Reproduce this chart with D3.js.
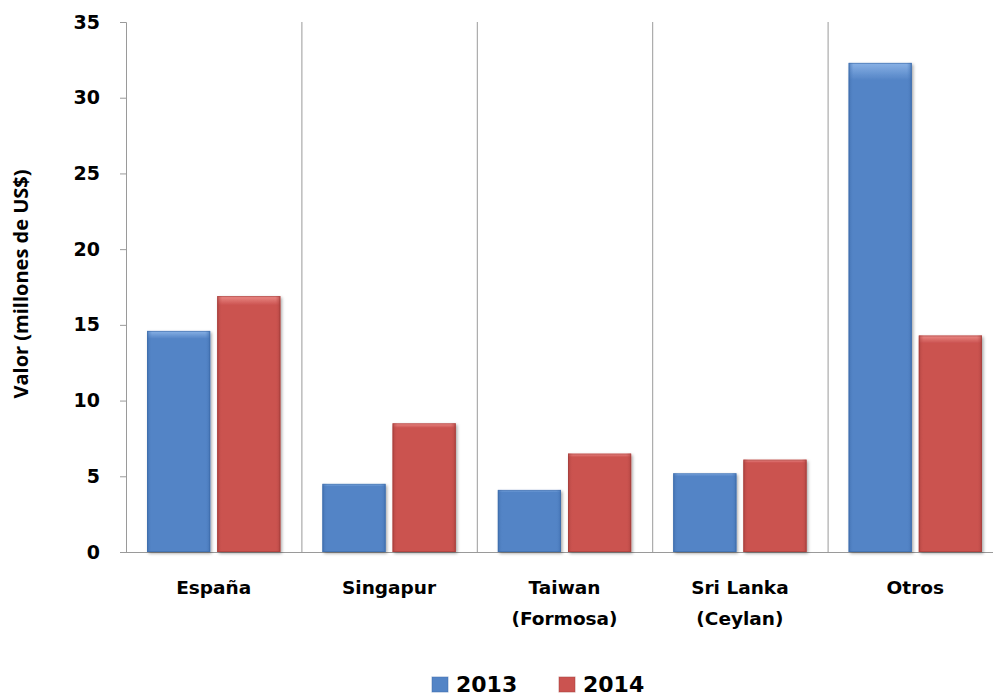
<!DOCTYPE html>
<html><head><meta charset="utf-8">
<script src="https://cdn.jsdelivr.net/npm/d3@7"></script>
<style>body{margin:0;background:#fff}svg{display:block}</style>
</head><body>
<script>
const categories = [["España"],["Singapur"],["Taiwan","(Formosa)"],["Sri Lanka","(Ceylan)"],["Otros"]];
const seriesNames = ["2013","2014"];
const values2013 = [14.6, 4.5, 4.1, 5.2, 32.3];
const values2014 = [16.9, 8.5, 6.5, 6.1, 14.3];
const yTicks = [0,5,10,15,20,25,30,35];
const colors = ["#5384c6","#cb5350"];

(function(){
const W=993,H=696;
const FONT="'DejaVu Sans',Verdana,sans-serif";
const svg=d3.select("body").append("svg").attr("width",W).attr("height",H);
const defs=svg.append("defs");
const dark=["#3c6aa8","#a23d3a"], light=["#8ab2e6","#ec8a87"];
colors.forEach((c,i)=>{
  const g=defs.append("linearGradient").attr("id","v"+i).attr("x1",0).attr("y1",0).attr("x2",0).attr("y2",1);
  g.append("stop").attr("offset","0").attr("stop-color",light[i]);
  g.append("stop").attr("offset","0.035").attr("stop-color",c);
  g.append("stop").attr("offset","1").attr("stop-color",c);
  const h=defs.append("linearGradient").attr("id","h"+i).attr("x1",0).attr("y1",0).attr("x2",1).attr("y2",0);
  h.append("stop").attr("offset","0").attr("stop-color",dark[i]).attr("stop-opacity",0.7);
  h.append("stop").attr("offset","0.08").attr("stop-color",c).attr("stop-opacity",0);
  h.append("stop").attr("offset","0.92").attr("stop-color",c).attr("stop-opacity",0);
  h.append("stop").attr("offset","1").attr("stop-color",dark[i]).attr("stop-opacity",0.7);
});
const f=defs.append("filter").attr("id","sh").attr("x","-20%").attr("y","-20%").attr("width","140%").attr("height","140%");
f.append("feDropShadow").attr("dx",1.5).attr("dy",1.5).attr("stdDeviation",1.5).attr("flood-color","#000").attr("flood-opacity",0.35);

const pl=126, pt=22, pb=552, pr=1003;
const x=d3.scaleBand().domain(d3.range(categories.length)).range([pl,pr]).paddingInner(0).paddingOuter(0);
const x1=d3.scaleBand().domain([0,1]).range([0,x.bandwidth()]).paddingInner(0.1).paddingOuter(0.3);
const y=d3.scaleLinear().domain([0,35]).range([pb,pt]);

svg.append("g").selectAll("line").data(d3.range(1,categories.length)).join("line")
  .attr("x1",d=>x(d)+0.5).attr("x2",d=>x(d)+0.5).attr("y1",pt).attr("y2",pb)
  .attr("stroke","#9a9a9a").attr("stroke-width",1);

const ya=svg.append("g").attr("transform",`translate(${pl},0)`)
  .call(d3.axisLeft(y).tickValues(yTicks).tickSize(6).tickPadding(20).tickFormat(d3.format("d")));
ya.select(".domain").attr("stroke","#9a9a9a").attr("d",`M-6,${pt}.5H0.5V${pb}`);
ya.selectAll(".tick line").attr("stroke","#9a9a9a");
ya.selectAll("text").attr("font-family",FONT).attr("font-weight","bold").attr("font-size",19).attr("fill","#000");

svg.append("line").attr("x1",pl).attr("x2",pr).attr("y1",pb+0.5).attr("y2",pb+0.5).attr("stroke","#9a9a9a");

const data=[values2013,values2014];
const gb=svg.append("g");
categories.forEach((c,ci)=>{
  [0,1].forEach(si=>{
    const v=data[si][ci];
    const bx=x(ci)+x1(si), bw=x1.bandwidth(), by=y(v), bh=y(0)-y(v);
    const g=gb.append("g");
    g.append("rect").attr("x",bx).attr("y",by).attr("width",bw).attr("height",bh).attr("fill",`url(#v${si})`).attr("filter","url(#sh)");
    g.append("rect").attr("x",bx).attr("y",by).attr("width",bw).attr("height",bh).attr("fill",`url(#h${si})`);
    g.append("rect").attr("x",bx+0.5).attr("y",by+0.5).attr("width",bw-1).attr("height",bh-1).attr("fill","none").attr("stroke",dark[si]).attr("stroke-opacity",0.6);
  });
});

const cl=svg.append("g").attr("font-family",FONT).attr("font-weight","bold").attr("font-size",18.5).attr("text-anchor","middle");
categories.forEach((c,ci)=>{
  c.forEach((line,li)=>{
    cl.append("text").attr("x",x(ci)+x.bandwidth()/2).attr("y",594+li*31).text(line);
  });
});

svg.append("text").attr("transform","translate(28,284) rotate(-90)").attr("text-anchor","middle")
  .attr("font-family","'Open Sans',sans-serif").attr("font-weight","bold").attr("font-size",20).text("Valor (millones de US$)");

const lg=svg.append("g");
const lx=[432,559];
seriesNames.forEach((s,i)=>{
  lg.append("rect").attr("x",lx[i]).attr("y",677).attr("width",16).attr("height",15).attr("fill",`url(#v${i})`).attr("stroke",dark[i]).attr("stroke-opacity",0.5);
  lg.append("text").attr("x",lx[i]+24).attr("y",692).attr("font-family",FONT).attr("font-weight","bold").attr("font-size",22).text(s);
});
})();
</script>
</body></html>
